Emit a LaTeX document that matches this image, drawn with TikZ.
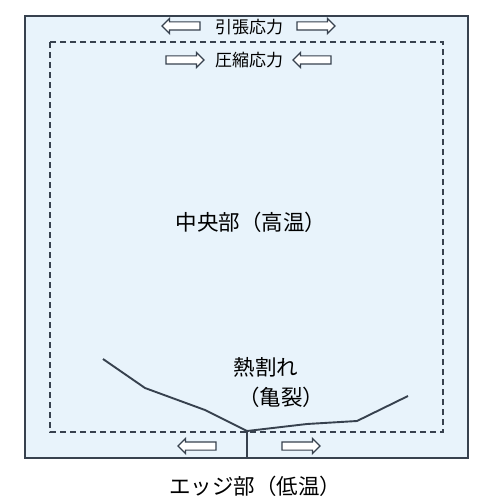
\documentclass[tikz,border=0pt]{standalone}
\usepackage{fontspec}
\setmainfont{Noto Sans CJK JP}
\usetikzlibrary{shapes.arrows}
\definecolor{plate}{RGB}{232,243,251}
\definecolor{edge}{RGB}{55,65,78}
\tikzset{
	stressarrow/.style={single arrow, draw=edge, fill=white, line width=1.2pt, inner xsep=0pt, inner ysep=3.5pt,
		minimum height=38pt, single arrow head extend=3.5pt, single arrow head indent=0pt},
	bigtext/.style={font=\fontsize{21.5}{24}\selectfont, inner sep=0pt},
	smalltext/.style={font=\fontsize{17}{20}\selectfont, inner sep=0pt}
}
\begin{document}
\begin{tikzpicture}[x=1pt, y=-1pt]
	\useasboundingbox (0,0) rectangle (494,503);
	% Plate
	\draw [line width=2.4pt, draw=edge, fill=plate] (25,16) rectangle (468,458);
	\draw [line width=1.5pt, draw=edge, dashed, dash pattern=on 6pt off 4pt] (50,42) rectangle (443,432);
	% Stress arrows
	\foreach \n/\x/\y/\r in {tl/183/26/180, tr/314/26/0, bl/183/60/0, br/314/60/180, cl/199/446/180, cr/299/446/0} {
		\node [stressarrow, shape border rotate=\r] (arr-\n) at (\x,\y) {};
	}
	% Labels
	\node [smalltext] (tension) at (249,27) {引張応力};
	\node [smalltext] (compress) at (249,60) {圧縮応力};
	\node [bigtext] (centre) at (251,222) {中央部（高温）};
	\node [bigtext] (crack) at (266,367) {熱割れ};
	\node [bigtext] (crack2) at (281,397) {（亀裂）};
	\node [bigtext] (edgelabel) at (255,486) {エッジ部（低温）};
	% Crack
	\coordinate (tip) at (247,431);
	\draw [line width=1.9pt, draw=edge, line join=round] (103,359) -- (145,388) -- (205,410) -- (tip)
		-- (307,424) -- (357,421) -- (408,396);
	\draw [line width=1.9pt, draw=edge] (tip) -- (247,458);
\end{tikzpicture}
\end{document}
